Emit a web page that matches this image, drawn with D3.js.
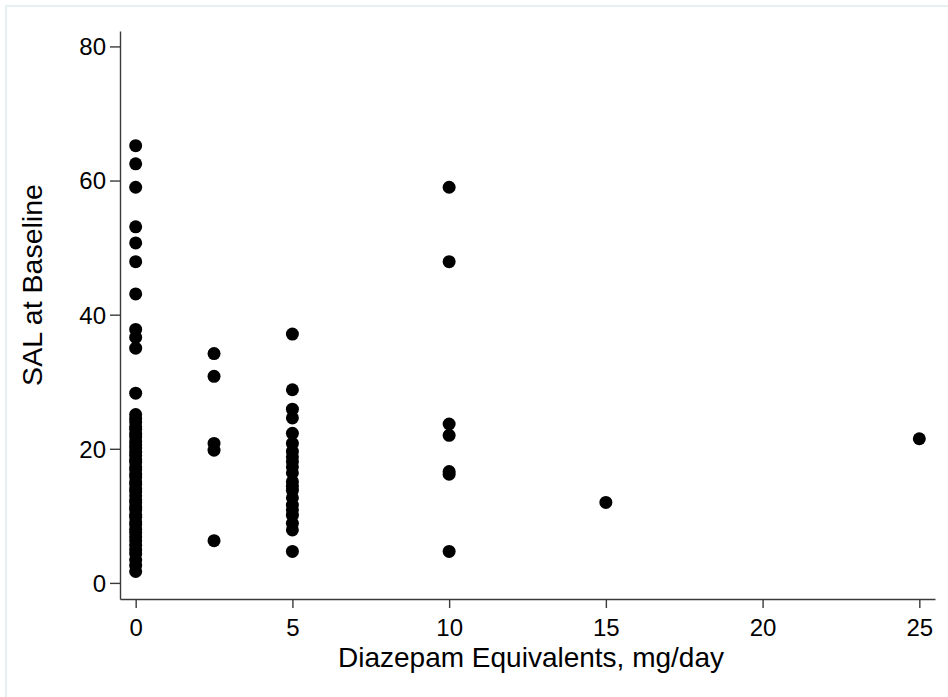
<!DOCTYPE html>
<html>
<head>
<meta charset="utf-8">
<script src="https://cdn.jsdelivr.net/npm/d3@7"></script>
<style>
  body { margin: 0; background: #fff; }
  svg text { font-family: "Liberation Sans", Arial, sans-serif; fill: #000; }
</style>
</head>
<body>
<svg id="scatter"></svg>
<script>
// SAL at baseline by benzodiazepine dose (diazepam equivalents)
var dose0 = [65.2, 62.5, 59.0, 53.1, 50.7, 47.9, 43.1, 37.8, 36.6, 35.0, 28.3,
  25.1, 24.5, 24.0, 23.3, 22.9, 22.2, 21.8, 21.1, 20.6, 20.1, 19.5, 19.0, 18.4,
  18.0, 17.3, 16.9, 16.2, 15.8, 15.1, 14.7, 14.0, 13.6, 13.0, 12.4, 12.0, 11.3,
  10.9, 10.2, 9.8, 9.1, 8.7, 8.0, 7.5, 6.9, 6.3, 5.6, 4.9, 4.3, 3.4, 2.6, 1.7];
var dose2_5 = [34.2, 30.8, 20.8, 19.8, 6.3];
var dose5 = [37.1, 28.8, 25.9, 24.6, 22.3, 20.8, 19.6, 18.8, 18.1, 17.3, 16.4,
  15.1, 14.4, 13.8, 12.7, 11.6, 10.9, 10.1, 8.9, 7.9, 4.7];
var dose10 = [59.0, 47.9, 23.7, 22.0, 16.6, 16.2, 4.7];
var dose15 = [12.0];
var dose25 = [21.5];

var doseGroups = [0, 2.5, 5, 10, 15, 25];
var salByGroup = [dose0, dose2_5, dose5, dose10, dose15, dose25];

var xTicks = [0, 5, 10, 15, 20, 25];
var yTicks = [0, 20, 40, 60, 80];

function createScatter(w, h) {
  var svg = d3.select('#scatter')
    .attr('width', w)
    .attr('height', h);

  // light outer frame of the graph region
  svg.append('rect')
    .attr('x', 6).attr('y', 6)
    .attr('width', 1000).attr('height', 1000)
    .attr('fill', 'none')
    .attr('stroke', '#e5eef0')
    .attr('stroke-width', 2);

  var left = 120, right = 935, top = 31, bottom = 599;
  var x = d3.scaleLinear().domain([-0.5, 25.5]).range([left, right]);
  var y = d3.scaleLinear().domain([-2.4, 82.3]).range([bottom, top]);

  var pts = [];
  for (i = 0; i < doseGroups.length; i++) {
    salByGroup[i].forEach(function(v) { pts.push([doseGroups[i], v]); });
  }

  var xAxis = d3.axisBottom(x).tickValues(xTicks).tickSize(9).tickPadding(11).tickSizeOuter(0);
  var yAxis = d3.axisLeft(y).tickValues(yTicks).tickSize(10).tickPadding(4).tickSizeOuter(0);

  var gx = svg.append('g')
    .attr('transform', 'translate(0,' + bottom + ')')
    .call(xAxis);
  var gy = svg.append('g')
    .attr('transform', 'translate(' + left + ',0)')
    .call(yAxis);

  [gx, gy].forEach(function(g) {
    g.selectAll('path, line').attr('stroke', '#3a3a3a').attr('stroke-width', 1.4);
    g.selectAll('text').attr('font-size', 24).attr('font-family', '"Liberation Sans", Arial, sans-serif');
  });
  gy.selectAll('text').attr('dy', '0.35em');

  svg.append('g').selectAll('circle')
    .data(pts)
    .enter().append('circle')
    .attr('cx', function(d) { return x(d[0]); })
    .attr('cy', function(d) { return y(d[1]); })
    .attr('r', 6.5)
    .attr('fill', '#000');

  svg.append('text')
    .attr('x', 531)
    .attr('y', 667)
    .attr('text-anchor', 'middle')
    .attr('font-size', 28)
    .text('Diazepam Equivalents, mg/day');

  svg.append('text')
    .attr('transform', 'translate(42,285) rotate(-90)')
    .attr('text-anchor', 'middle')
    .attr('font-size', 28.5)
    .text('SAL at Baseline');
}

createScatter(948, 697);
</script>
</body>
</html>
